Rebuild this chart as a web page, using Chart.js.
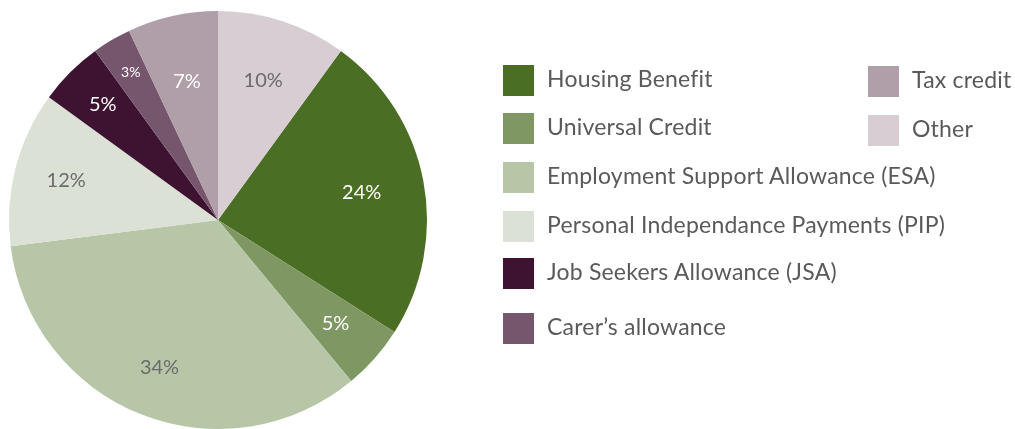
<!DOCTYPE html>
<html>
<head>
<meta charset="utf-8">
<script src="https://cdn.jsdelivr.net/npm/chart.js@4/dist/chart.umd.min.js"></script>
<style>
  html, body { margin: 0; padding: 0; background: #fff; }
  #wrap { position: relative; width: 1015px; height: 429px; overflow: hidden; }
  #pie { position: absolute; left: 0; top: 0; }
  .leg { position: absolute; display: flex; align-items: center; font-family: Lato, "Open Sans", sans-serif; font-size: 23px; letter-spacing: 0.2px; color: #5a5a5a; white-space: nowrap; }
  .leg .sw { width: 31px; height: 31px; margin-right: 13px; flex: none; }
  .leg .tx { position: relative; top: -3px; }
</style>
</head>
<body>
<div id="wrap">
  <canvas id="pie" width="1015" height="429"></canvas>
  <div id="legend"></div>
</div>
<script>
(function(){
  'use strict';

  const labels = ['Housing Benefit', 'Universal Credit', 'Employment Support Allowance (ESA)',
    'Personal Independance Payments (PIP)', 'Job Seekers Allowance (JSA)', "Carer\u2019s allowance",
    'Tax credit', 'Other'];
  const values = [24, 5, 34, 12, 5, 3, 7, 10];
  const colors = ['#4a6e23', '#7f9863', '#b6c6a7', '#dbe1d4', '#3e1231', '#76566c', '#b09ea9', '#d8cdd3'];

  // label styling per slice (radius fraction, text colour, font size)
  const labelFrac = [0.70, 0.75, 0.76, 0.75, 0.78, 0.82, 0.68, 0.70];
  const labelColor = ['#fff', '#fff', '#6b6b6b', '#6b6b6b', '#fff', '#fff', '#fff', '#6b6b6b'];
  const labelSize = [20, 20, 20, 20, 20, 14, 20, 20];

  // legend placement: first 6 in left column, last 2 in right
  const legendLeft = [503, 503, 503, 503, 503, 503, 868, 868];
  const legendTop = [65, 113, 162, 211, 258, 313, 66, 115];

  const legendEl = document.getElementById('legend');
  labels.forEach((name, i) => {
    const d = document.createElement('div');
    d.className = 'leg';
    d.style.left = legendLeft[i] + 'px';
    d.style.top = legendTop[i] + 'px';
    d.style.height = '31px';
    d.innerHTML = `<span class="sw" style="background:${colors[i]}"></span><span class="tx">${name}</span>`;
    legendEl.appendChild(d);
  });

  const sliceLabels = {
    id: 'sliceLabels',
    afterDatasetsDraw(chart){
      const {ctx} = chart;
      const meta = chart.getDatasetMeta(0);
      ctx.save();
      ctx.textAlign = 'center';
      ctx.textBaseline = 'middle';
      meta.data.forEach((arc, i) => {
        const p = arc.getProps(['startAngle', 'endAngle', 'x', 'y', 'outerRadius'], true);
        const mid = (p.startAngle + p.endAngle) / 2;
        const r = p.outerRadius * labelFrac[i];
        ctx.fillStyle = labelColor[i];
        ctx.font = `${labelSize[i]}px Lato, "Open Sans", sans-serif`;
        ctx.fillText(values[i] + '%', p.x + Math.cos(mid) * r, p.y + Math.sin(mid) * r);
      });
      ctx.restore();
    }
  };

  new Chart(document.getElementById('pie'), {
    type: 'pie',
    data: { labels, datasets: [{ data: values, backgroundColor: colors, borderWidth: 0 }] },
    options: {
      responsive: false,
      animation: false,
      rotation: 36,
      layout: { padding: { left: 9, top: 11, right: 588, bottom: 0 } },
      plugins: { legend: { display: false }, tooltip: { enabled: false } }
    },
    plugins: [sliceLabels]
  });
})();
</script>
</body>
</html>
